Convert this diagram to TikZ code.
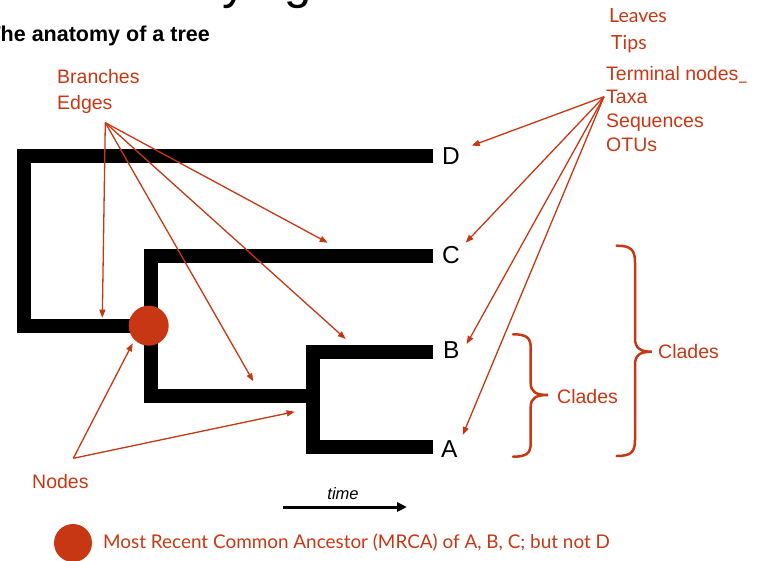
\documentclass[tikz,border=0pt]{standalone}
\usepackage{fontspec}
\setmainfont{Liberation Sans}
\newfontfamily\humanist{Lato}
\usetikzlibrary{arrows.meta}
\definecolor{accent}{RGB}{200,55,20}

\begin{document}
\begin{tikzpicture}[x=1pt,y=-1pt,
  branch/.style={line width=13.5pt, line join=miter, line cap=butt},
  pointer/.style={draw=accent, line width=1.3pt, -{Triangle[length=8pt,width=6pt]}},
  brace/.style={draw=accent, line width=2.5pt, line cap=round},
  tip/.style={inner sep=0pt, anchor=base west, font=\fontsize{24.5}{26}\selectfont},
  term/.style={inner sep=0pt, anchor=base west, text=accent, font=\fontsize{19.5}{22}\selectfont},
  soft/.style={inner sep=0pt, anchor=base west, text=accent, font=\humanist\fontsize{19.5}{22}\selectfont},
]
\useasboundingbox (0,0) rectangle (761,561);
\clip (0,0) rectangle (761,561);

% headings (the slide title runs off the top edge, the subtitle off the left edge)
\node[inner sep=0pt, anchor=base west, font=\fontsize{49}{50}\selectfont] (heading) at (162,-1) {Phylogenetics};
\node[inner sep=0pt, anchor=base east, font=\bfseries\fontsize{21.5}{24}\selectfont] (subhead) at (210,41.7) {The anatomy of a tree};

% tree skeleton
\coordinate (root) at (24,156);
\coordinate (rootlow) at (24,326);
\coordinate (abcTop) at (151,256);
\coordinate (abcLow) at (151,396);
\coordinate (abTop) at (313,352);
\coordinate (abLow) at (313,447);
\coordinate (endD) at (433,156);
\coordinate (endC) at (433,256);
\coordinate (endB) at (433,352);
\coordinate (endA) at (433,447);

\draw[branch] (endD) -- (root) -- (rootlow) -- (148.7,326);
\draw[branch] (endC) -- (abcTop) -- (abcLow) -- (abLow |- abcLow);
\draw[branch] (endB) -- (abTop) -- (abLow) -- (endA);

\node[circle, fill=accent, minimum size=40pt, inner sep=0pt] (mrca) at (148.7,325.7) {};

% tip labels
\node[tip] (labD) at (442,164.3) {D};
\node[tip] (labC) at (442,263.3) {C};
\node[tip] (labB) at (443,358.3) {B};
\node[tip] (labA) at (441,457.3) {A};

% terminology labels
\node[term] (branches) at (57,84) {Branches};
\node[term] (edges) at (57,109.3) {Edges};
\node[soft] (leaves) at (609,23) {Leaves};
\node[soft] (tips) at (611,50) {Tips};
\node[term] (terminal) at (606,80.7) {Terminal nodes{\humanist\_}};
\node[term] (taxa) at (606,104) {Taxa};
\node[term] (sequences) at (606,128) {Sequences};
\node[term] (otus) at (606,152) {OTUs};
\node[term] (nodes) at (32,488) {Nodes};
\node[term] (cladesBig) at (658,358.7) {Clades};
\node[term] (cladesSmall) at (557,403.7) {Clades};

% pointers from the branch labels
\coordinate (branchHub) at (105.3,122.7);
\coordinate (brA) at (102.3,317.7);
\coordinate (brB) at (253.3,381.3);
\coordinate (brC) at (345.7,339);
\coordinate (brD) at (327.7,242.7);
\foreach \t in {brA,brB,brC,brD} \draw[pointer] (branchHub) -- (\t);

% pointers from the leaf labels
\coordinate (taxaHub) at (604,96.7);
\coordinate (lfD) at (471.7,145.7);
\coordinate (lfC) at (465.7,242.7);
\coordinate (lfB) at (466.7,344);
\coordinate (lfA) at (462.7,435);
\foreach \t in {lfD,lfC,lfB,lfA} \draw[pointer] (taxaHub) -- (\t);

% pointers from the node label
\coordinate (nodeHub) at (73.3,458.3);
\coordinate (ndRoot) at (132.7,343.3);
\coordinate (ndAB) at (294.7,411.7);
\foreach \t in {ndRoot,ndAB} \draw[pointer] (nodeHub) -- (\t);

% clade braces
\draw[brace] (513,334.3) .. controls (527,334.3) and (530.7,338) .. (530.7,348)
  -- (530.7,383) .. controls (530.7,392) and (536,395) .. (548,395)
  .. controls (536,395) and (530.7,398) .. (530.7,407)
  -- (530.7,443) .. controls (530.7,453) and (527,456.7) .. (513,456.7);
\draw[brace] (616.7,245.7) .. controls (631,245.7) and (635,250) .. (635,262)
  -- (635,338) .. controls (635,348) and (640,351.7) .. (651.7,351.7)
  .. controls (640,351.7) and (635,355) .. (635,365)
  -- (635,440) .. controls (635,452) and (631,456) .. (616.7,456);

% time axis
\node[inner sep=0pt, anchor=base, font=\itshape\fontsize{16.5}{18}\selectfont] (timelab) at (343,500) {time};
\coordinate (timeStart) at (283,507);
\coordinate (timeEnd) at (407,507);
\draw[line width=3pt, -{Triangle[length=10pt,width=9pt]}] (timeStart) -- (timeEnd);

% legend
\node[circle, fill=accent, minimum size=38pt, inner sep=0pt] (legendDot) at (73,543) {};
\node[soft, font=\humanist\fontsize{18.9}{22}\selectfont] (legendText) at (103,548.3) {Most Recent Common Ancestor (MRCA) of A, B, C; but not D};
\end{tikzpicture}
\end{document}
